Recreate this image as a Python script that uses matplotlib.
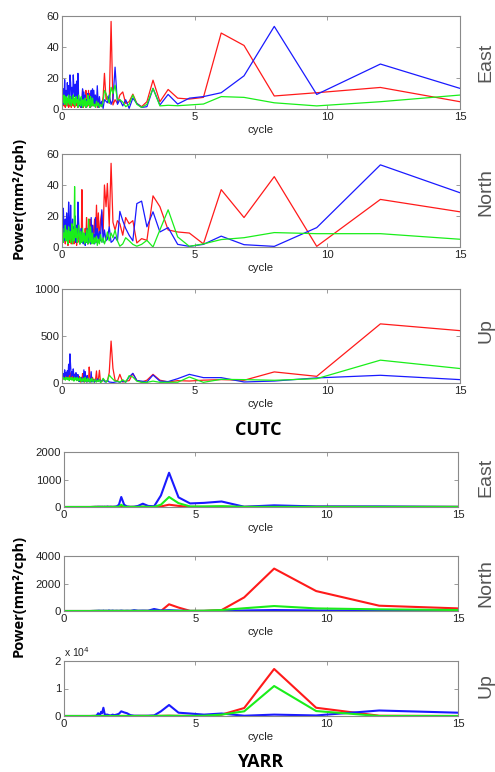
import matplotlib
matplotlib.use('Agg')
import matplotlib.pyplot as plt
from matplotlib.ticker import FuncFormatter

# x positions (cycle) shared by all series
x_grid = [15, 12, 9.6, 8, 6.86, 6, 5.33, 4.8, 4.36, 4, 3.69, 3.43, 3.2, 3, 2.82, 2.67, 2.53, 2.4, 2.29, 2.18,
          2.09, 2, 1.92, 1.85, 1.78, 1.71, 1.66, 1.6, 1.55, 1.5, 1.45, 1.41, 1.37, 1.33, 1.3, 1.26, 1.23, 1.2]
x_dense = [1.175, 1.15, 1.125, 1.1, 1.075, 1.05, 1.025, 1.0, 0.975, 0.95, 0.925, 0.9, 0.875, 0.85, 0.825, 0.8,
           0.775, 0.75, 0.725, 0.7, 0.675, 0.65, 0.625, 0.6, 0.575, 0.55, 0.525, 0.5, 0.475, 0.45, 0.425, 0.4,
           0.375, 0.35, 0.325, 0.3, 0.275, 0.25, 0.225, 0.2, 0.175, 0.15, 0.125, 0.1, 0.075, 0.05, 0.025, 0.0]
x_cutc = x_grid + x_dense
x_yarr = x_grid + [1.0, 0.5, 0.0]

# CUTC East
cutc_east_r = [4.7, 13.9, 10.5, 8.4, 41, 49, 7.5, 6.4, 7, 12.6, 4.7, 18.6, 4.7, 1.5, 3.6, 9.6, 4.7, 3.6, 11, 9,
               3.6, 6, 2.6, 56.5, 3.6, 8, 6, 23, 8, 1.5, 4, 2, 6, 1, 7, 3, 9, 2,
               3, 9, 2, 5, 1, 10, 3, 12, 2, 6, 1, 12, 4, 2, 8, 1, 12, 3, 5, 1, 4, 2, 6, 1, 3, 5, 2, 7, 1, 4,
               2, 6, 3, 1, 5, 2, 4, 1, 6, 2, 3, 5, 1, 4, 2, 6, 3, 4]
cutc_east_b = [13.3, 29, 9.4, 53.3, 21.4, 10.5, 8, 7, 3.2, 9.4, 2.6, 13.3, 1.5, 1, 3.6, 7, 0.4, 6, 2, 6,
               3, 27, 6, 3, 9, 4, 5, 6, 0.4, 5, 2, 8, 1, 15, 3, 9, 2, 12,
               4, 13, 2, 12, 5, 1, 8, 3, 10, 2, 6, 1, 9, 3, 11, 2, 13, 4, 1, 7, 2, 5, 9, 23, 6, 18, 4, 16, 8, 12,
               22, 5, 14, 3, 17, 22, 6, 15, 9, 17, 4, 12, 7, 19, 3, 13, 5, 12]
cutc_east_g = [9, 4.7, 2, 4, 7.5, 8, 3.2, 2.6, 2.1, 2.4, 2, 13.3, 3, 1, 3, 9, 3, 1.5, 4.5, 6,
               6, 15.4, 10, 14, 4, 7, 10, 12, 5, 1.5, 3, 1, 4, 2, 5, 1, 3, 2,
               3, 7, 2, 5, 8, 1, 6, 3, 9, 2, 5, 1, 7, 3, 2, 6, 1, 4, 8, 2, 5, 3, 9, 1, 6, 4, 8, 2, 7, 3,
               9, 4, 6, 2, 8, 5, 3, 9, 4, 7, 2, 8, 5, 3, 9, 4, 6, 3]

# CUTC North
cutc_north_r = [22.7, 30.7, 0.4, 45.4, 19, 37, 2, 9, 9.7, 11, 26, 33, 4.3, 5.4, 2.6, 17, 15, 19, 7.6, 15,
                17, 11, 16, 54, 13, 41, 26, 40, 8.6, 22.7, 17, 3, 22, 8, 27, 5, 18, 10,
                6, 14, 3, 9, 2, 18, 5, 11, 2, 8, 19, 4, 12, 2, 7, 3, 10, 37, 4, 8, 2, 6, 11, 3, 5, 1, 7, 3, 9, 2,
                6, 4, 10, 2, 5, 8, 3, 6, 1, 9, 4, 7, 2, 5, 8, 3, 6, 4]
cutc_north_b = [35, 53, 12.5, 0.4, 1.5, 7, 1.7, 0.4, 1.7, 12.5, 9.7, 22.7, 13, 29.6, 28, 4, 7.6, 12, 17, 23,
                4, 6.5, 4, 3, 13, 5, 4, 11, 3, 24, 4, 10, 5, 12, 3, 19, 2, 8,
                5, 14, 3, 19, 2, 10, 4, 7, 2, 12, 3, 9, 1, 6, 4, 2, 8, 3, 12, 5, 2, 9, 17, 29, 6, 14, 3, 20, 8, 13,
                4, 18, 7, 11, 27, 5, 16, 29, 9, 14, 22, 6, 18, 4, 12, 25, 3, 10]
cutc_north_g = [5, 8.6, 8.6, 9.3, 6, 4.8, 2, 0.4, 6.5, 24, 11, 0, 4.3, 1.7, 0.5, 1.7, 4, 6, 2, 0.5,
                4, 11, 6, 9, 4, 9.7, 5, 2, 6, 3, 8, 2, 5, 1, 7, 3, 6, 2,
                4, 9, 2, 7, 13, 3, 8, 18, 2, 6, 11, 3, 7, 2, 9, 4, 12, 3, 6, 10, 2, 8, 14, 5, 3, 12, 6, 9, 39, 4,
                11, 2, 15, 7, 3, 10, 5, 13, 2, 8, 11, 4, 14, 6, 9, 3, 12, 5]

# CUTC Up
cutc_up_r = [557, 629, 71, 118, 29, 36, 30, 21, 25, 11, 30, 92, 30, 10, 28, 100, 25, 20, 10, 92,
             20, 30, 156, 446, 110, 20, 15, 25, 40, 15, 15, 135, 30, 20, 128, 25, 10, 40,
             20, 60, 15, 40, 10, 90, 170, 20, 40, 10, 30, 60, 15, 35, 10, 50, 100, 20, 45, 10,
             30, 70, 20, 50, 90, 30, 60, 100, 40, 80, 30, 60, 90, 40, 70, 110, 50, 80, 40, 90,
             60, 100, 50, 80, 40, 70, 90, 60]
cutc_up_b = [36, 82, 54, 21, 11, 57, 57, 92, 46, 15, 20, 85, 10, 20, 25, 103, 64, 10, 20, 8,
             15, 10, 5, 8, 10, 30, 10, 15, 40, 25, 10, 35, 20, 45, 15, 30, 10, 20,
             20, 40, 10, 120, 15, 30, 10, 50, 20, 80, 10, 30, 120, 15, 140, 20, 40, 10, 60, 25,
             50, 15, 40, 90, 30, 70, 110, 45, 90, 60, 150, 80, 120, 60, 180, 310, 90, 200, 70, 130,
             60, 110, 80, 140, 50, 100, 70, 90]
cutc_up_g = [154, 243, 46, 29, 36, 39, 7, 64, 8, 8, 7, 20, 7, 7, 20, 64, 78, 8, 35, 8,
             20, 20, 40, 60, 85, 20, 10, 30, 50, 15, 5, 40, 15, 30, 10, 25, 40, 20,
             10, 30, 50, 20, 40, 10, 30, 20, 50, 15, 40, 20, 60, 10, 30, 50, 20, 40, 15, 60,
             30, 50, 20, 40, 60, 25, 50, 35, 60, 20, 45, 55, 30, 60, 40, 50, 25, 60, 35, 55,
             40, 60, 30, 50, 45, 60, 35, 50]

# YARR East
yarr_east_r = [5, 5, 10, 15, 5, 10, 5, 5, 40, 84, 20, 5, 5, 10, 5, 5, 5, 5, 5, 20,
               5, 5, 5, 5, 5, 5, 5, 5, 5, 5, 5, 5, 5, 5, 5, 5, 5, 5, 0, 0, 0]
yarr_east_b = [5, 20, 20, 60, 10, 200, 150, 130, 350, 1245, 420, 24, 40, 120, 40, 10, 5, 20, 80, 364,
               80, 20, 10, 5, 10, 5, 15, 5, 10, 5, 10, 5, 10, 5, 10, 5, 5, 5, 0, 0, 0]
yarr_east_g = [5, 5, 5, 5, 5, 30, 20, 20, 140, 364, 84, 5, 5, 15, 5, 5, 5, 5, 10, 80,
               10, 5, 5, 5, 5, 5, 5, 5, 5, 5, 5, 5, 5, 5, 5, 5, 5, 5, 0, 0, 0]

# YARR North
yarr_north_r = [190, 385, 1450, 3085, 990, 70, 10, 10, 250, 490, 0, 20, 10, 5, 5, 5, 5, 5, 5, 5,
                5, 5, 5, 5, 5, 5, 5, 5, 5, 5, 5, 5, 5, 5, 5, 5, 5, 5, 0, 0, 0]
yarr_north_b = [10, 20, 40, 70, 40, 10, 5, 5, 30, 60, 40, 145, 20, 30, 20, 60, 10, 20, 10, 30,
                10, 20, 10, 30, 10, 40, 10, 20, 10, 30, 10, 20, 10, 30, 10, 20, 10, 10, 0, 0, 0]
yarr_north_g = [70, 120, 190, 360, 200, 70, 20, 10, 10, 10, 10, 10, 10, 10, 10, 10, 10, 10, 10, 10,
                10, 10, 10, 10, 10, 10, 10, 10, 10, 10, 10, 10, 10, 10, 10, 10, 10, 10, 0, 0, 0]

# YARR Up
yarr_up_r = [0, 100, 3000, 17100, 2900, 500, 100, 50, 50, 100, 50, 50, 20, 50, 20, 20, 20, 20, 20, 20,
             20, 20, 20, 20, 20, 20, 20, 20, 20, 20, 20, 20, 20, 20, 20, 20, 20, 20, 0, 0, 0]
yarr_up_b = [1200, 2000, 200, 500, 100, 900, 500, 900, 1200, 4000, 1700, 200, 100, 50, 100, 100, 300, 1000, 1300, 1700,
             800, 500, 300, 500, 200, 300, 500, 500, 600, 3000, 1000, 1500, 300, 500, 1000, 400, 100, 50, 0, 0, 0]
yarr_up_g = [0, 0, 1800, 10900, 1700, 500, 100, 50, 50, 100, 50, 50, 20, 50, 20, 20, 20, 20, 20, 20,
             20, 20, 20, 20, 20, 20, 20, 20, 20, 20, 20, 20, 20, 20, 20, 20, 20, 20, 0, 0, 0]

RED, BLUE, GREEN = '#ff1a1a', '#1a1aff', '#1aee1a'
FRAME = '#8a8a8a'

panels = [
    (x_cutc, cutc_east_r, cutc_east_b, cutc_east_g, [0, 20, 40, 60], 60, 'East'),
    (x_cutc, cutc_north_r, cutc_north_b, cutc_north_g, [0, 20, 40, 60], 60, 'North'),
    (x_cutc, cutc_up_r, cutc_up_b, cutc_up_g, [0, 500, 1000], 1000, 'Up'),
    (x_yarr, yarr_east_r, yarr_east_b, yarr_east_g, [0, 1000, 2000], 2000, 'East'),
    (x_yarr, yarr_north_r, yarr_north_b, yarr_north_g, [0, 2000, 4000], 4000, 'North'),
    (x_yarr, yarr_up_r, yarr_up_b, yarr_up_g, [0, 10000, 20000], 20000, 'Up'),
]

# axes boxes in pixels: left, top, right, bottom
boxes = [(62, 16, 460, 109), (62, 154, 460, 247), (62, 289, 460, 383),
         (64, 452, 458, 507), (64, 556, 458, 611), (64, 661, 458, 716)]
side_y = [62, 192, 331, 477, 583, 686]

W, H = 495, 772
fig = plt.figure(figsize=(W / 100, H / 100), dpi=100)
plt.rcParams['font.family'] = ['Liberation Sans', 'DejaVu Sans']

for i, (xs, r, b, g, yt, ymax, side) in enumerate(panels):
    l, t, rr, bt = boxes[i]
    ax = fig.add_axes([l / W, 1 - bt / H, (rr - l) / W, (bt - t) / H])
    lw = 0.9 if i < 3 else 1.5
    ax.plot(xs, r, color=RED, lw=lw)
    ax.plot(xs, b, color=BLUE, lw=lw)
    ax.plot(xs, g, color=GREEN, lw=lw)
    ax.set_xlim(0, 15)
    ax.set_ylim(0, ymax)
    ax.set_xticks([0, 5, 10, 15])
    ax.set_yticks(yt)
    if i == 5:
        ax.yaxis.set_major_formatter(FuncFormatter(lambda v, p: '%d' % round(v / 10000)))
        ax.text(0, 1.16, r'x 10$^{4}$', transform=ax.transAxes, fontsize=7.5,
                ha='left', va='center', color='#222222')
    ax.tick_params(direction='in', length=3, width=0.6, colors=FRAME, labelcolor='#222222',
                   labelsize=8.2, top=True, right=True, pad=2)
    for s in ax.spines.values():
        s.set_color(FRAME)
        s.set_linewidth(0.8)
    ax.set_xlabel('cycle', fontsize=8.2, color='#222222', labelpad=2)
    fig.text(486 / W, 1 - side_y[i] / H, side, rotation=90, ha='center', va='center',
             fontsize=14, color='#555555')

fig.text(19 / W, 1 - 198 / H, 'Power(mm²/cph)', rotation=90, ha='center', va='center',
         fontsize=10.5, fontweight='bold', family=['Open Sans', 'DejaVu Sans'])
fig.text(19 / W, 1 - 596 / H, 'Power(mm²/cph)', rotation=90, ha='center', va='center',
         fontsize=10.5, fontweight='bold', family=['Open Sans', 'DejaVu Sans'])
fig.text(258 / W, 1 - 430 / H, 'CUTC', ha='center', va='center',
         fontsize=13, fontweight='bold', family=['Open Sans', 'DejaVu Sans'])
fig.text(260 / W, 1 - 762 / H, 'YARR', ha='center', va='center',
         fontsize=13, fontweight='bold', family=['Open Sans', 'DejaVu Sans'])

fig.savefig('out.png', dpi=100)
